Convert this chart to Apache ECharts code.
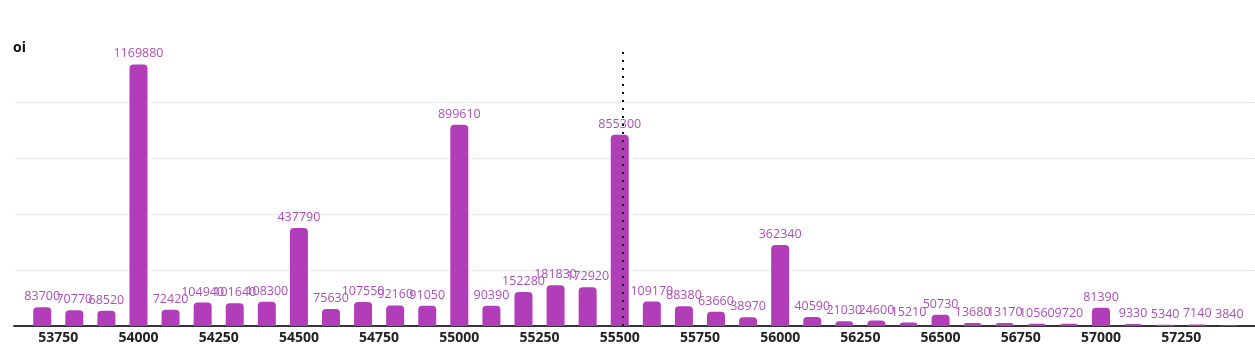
<!DOCTYPE html>
<html>
<head>
<meta charset="utf-8">
<script src="https://cdn.jsdelivr.net/npm/echarts@6/dist/echarts.min.js"></script>
<style>
html,body{margin:0;padding:0;background:#fff;}
#chart{width:1255px;height:349px;}
</style>
</head>
<body>
<div id="chart"></div>
<script>
const strikes = [53700,53800,53900,54000,54100,54200,54300,54400,54500,54600,54700,54800,54900,55000,55100,55200,55300,55400,55500,55600,55700,55800,55900,56000,56100,56200,56300,56400,56500,56600,56700,56800,56900,57000,57100,57200,57300,57400];
const oiValues = [83700,70770,68520,1169880,72420,104940,101640,108300,437790,75630,107550,92160,91050,899610,90390,152280,181830,172920,855300,109170,88380,63660,38970,362340,40590,21030,24600,15210,50730,13680,13170,10560,9720,81390,9330,5340,7140,3840];
const xTickLabels = [53750,54000,54250,54500,54750,55000,55250,55500,55750,56000,56250,56500,56750,57000,57250];
const spotValue = [55510];

const chart = echarts.init(document.getElementById('chart'));
chart.setOption({
  animation: false,
  title: {
    text: 'oi', left: 8, top: 36,
    textStyle: {fontFamily: 'Open Sans', fontWeight: 700, fontSize: 14, color: '#111'}
  },
  grid: {left: 14, right: 0, top: 46.5, bottom: 23, containLabel: false},
  xAxis: {
    type: 'value', min: 53612, max: 57480,
    axisLine: {show: true, lineStyle: {color: '#333', width: 2}},
    axisTick: {show: false},
    splitLine: {show: false},
    axisLabel: {
      customValues: xTickLabels, margin: 5,
      formatter: v => String(v),
      fontFamily: 'Open Sans', fontWeight: 700, fontSize: 14, color: '#222'
    }
  },
  yAxis: {
    type: 'value', min: 0, max: 1250000, interval: 250000,
    axisLine: {show: false}, axisTick: {show: false}, axisLabel: {show: false},
    splitLine: {show: true, showMinLine: false, showMaxLine: false, lineStyle: {color: '#dcdcdc', type: 'dotted', width: 1}}
  },
  series: [{
    type: 'bar',
    data: strikes.map((s, i) => [s, oiValues[i]]),
    barWidth: 18,
    itemStyle: {color: '#b13db9', borderRadius: [4, 4, 0, 0]},
    label: {
      show: true, position: 'top', distance: 4,
      formatter: p => String(p.value[1]),
      fontFamily: 'Open Sans', fontSize: 12.5, color: '#ad4fb8'
    },
    markLine: {
      silent: true, symbol: 'none', animation: false,
      label: {show: false},
      lineStyle: {color: '#000', type: [2, 6], width: 2},
      data: spotValue.map(v => ({xAxis: v}))
    }
  }]
});
</script>
</body>
</html>
